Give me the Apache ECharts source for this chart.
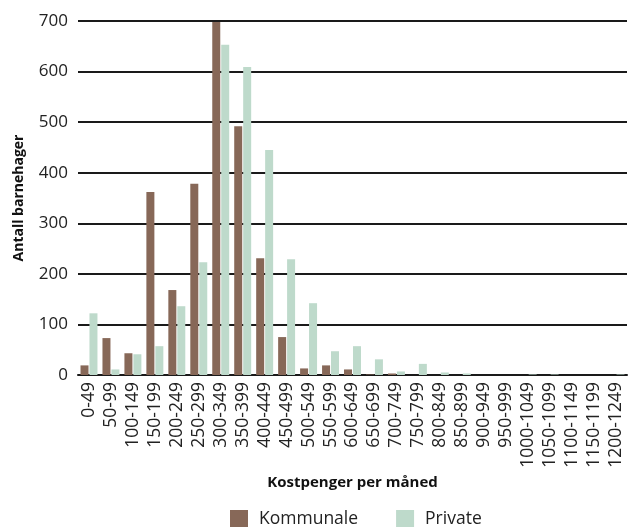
<!DOCTYPE html>
<html>
<head>
<meta charset="utf-8">
<script src="https://cdn.jsdelivr.net/npm/echarts@6/dist/echarts.min.js"></script>
<style>
html,body{margin:0;padding:0;background:#fff;}
#chart{width:628px;height:527px;}
</style>
</head>
<body>
<div id="chart"></div>
<script>
const categories = ["0-49","50-99","100-149","150-199","200-249","250-299","300-349","350-399","400-449","450-499","500-549","550-599","600-649","650-699","700-749","750-799","800-849","850-899","900-949","950-999","1000-1049","1050-1099","1100-1149","1150-1199","1200-1249"];
const kommunale = [19,73,43,362,168,378,698,492,231,75,13,19,11,1,3,0,0,0,0,0,0,0,0,0,0];
const privat = [122,11,41,57,136,223,653,609,445,229,142,47,57,31,7,22,5,3,0,0,1,1,0,0,1];
const yTicks = {min:0, max:700, interval:100};

const chart = echarts.init(document.getElementById('chart'));
const font = '"Open Sans", sans-serif';
chart.setOption({
  animation:false,
  textStyle:{fontFamily:font},
  grid:{left:78, right:1, top:21, bottom:152, containLabel:false},
  legend:{
    data:['Kommunale','Private'],
    bottom:-6, left:225,
    itemWidth:18, itemHeight:18, itemGap:38,
    icon:'rect',
    textStyle:{fontSize:17.5, color:'#222', fontFamily:font, padding:[0,0,0,6]}
  },
  xAxis:{
    type:'category', data:categories,
    name:'Kostpenger per måned', nameLocation:'middle', nameGap:100,
    nameTextStyle:{fontWeight:'bold', fontSize:15, color:'#111', fontFamily:font},
    axisLine:{show:true, lineStyle:{color:'#1a1a1a', width:2}},
    axisTick:{show:false},
    axisLabel:{rotate:90, interval:0, fontSize:17.5, color:'#222', margin:7, fontFamily:font}
  },
  yAxis:{
    type:'value', min:yTicks.min, max:yTicks.max, interval:yTicks.interval,
    name:'Antall barnehager', nameLocation:'middle', nameGap:52,
    nameTextStyle:{fontWeight:'bold', fontSize:14, color:'#111', fontFamily:font},
    axisLine:{show:false}, axisTick:{show:false},
    axisLabel:{fontSize:17, color:'#222', margin:10, fontFamily:font},
    splitLine:{lineStyle:{color:'#1a1a1a', width:2}}
  },
  series:[
    {name:'Kommunale', type:'bar', data:kommunale, barWidth:8, barGap:'12%', itemStyle:{color:'#876858'}},
    {name:'Private', type:'bar', data:privat, barWidth:8, barGap:'12%', itemStyle:{color:'#bedacb'}}
  ]
});
</script>
</body>
</html>
